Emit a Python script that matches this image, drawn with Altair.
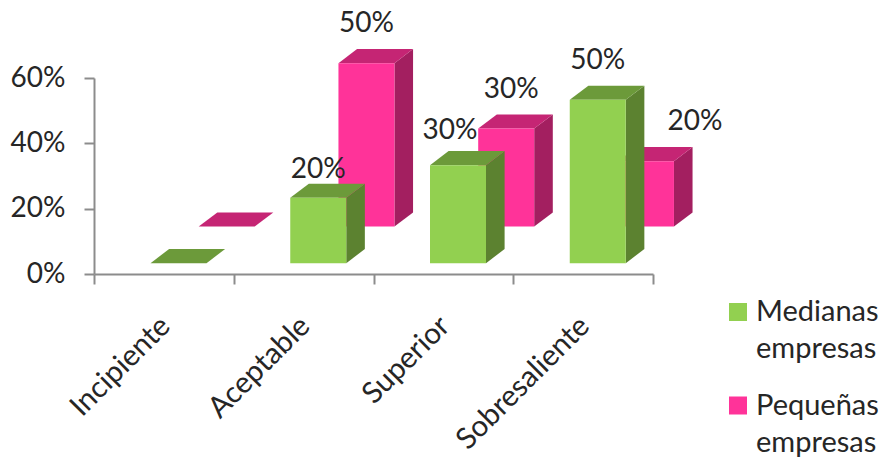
import json
import altair as alt
import pandas as pd

# Chart values
categories = ["Incipiente", "Aceptable", "Superior", "Sobresaliente"]
medianas = [0, 20, 30, 50]
pequenas = [0, 50, 30, 20]
series_names = ["Medianas\nempresas", "Pequeñas\nempresas"]
series_colors = ["#92D050", "#FF3399"]
y_ticks = [0, 20, 40, 60]

# Plot box in pixels and the pretend-3D geometry, in axis units
PLOT_W, PLOT_H = 559, 196
PX_X = PLOT_W / 4
PX_Y = PLOT_H / 60
BAR_W = 56 / PX_X
DEPTH_X = 18.6 / PX_X
DEPTH_Y = 14.2 / PX_Y

FONT = "Lato"
TEXT = "#262626"
AXIS_COLOR = "#8c8c8c"
LABEL_SIZE = 28

x_scale = alt.Scale(domain=[0, 4], nice=False, zero=False)
y_scale = alt.Scale(domain=[0, 60], nice=False, zero=False)

label_lookup = json.dumps(categories + [""])
x_axis = alt.Axis(
    values=[0, 1, 2, 3, 4], labelExpr=f"{label_lookup}[datum.value]",
    labelAngle=-45, labelAlign="right", labelBaseline="middle",
    labelOffset=71, labelPadding=37, labelOverlap=False, labelFlush=False,
    labelFont=FONT, labelFontSize=29.5, labelColor=TEXT, labelBound=False,
    tickSize=10, tickWidth=2, tickColor=AXIS_COLOR, domainWidth=2, domainColor=AXIS_COLOR, grid=False,
)
y_axis = alt.Axis(
    values=y_ticks, labelExpr="datum.value + '%'", labelPadding=19,
    labelFont=FONT, labelFontSize=LABEL_SIZE, labelColor=TEXT, labelOverlap=False,
    labelBound=False, labelFlush=False,
    tickSize=10, tickWidth=2, tickColor=AXIS_COLOR, domainWidth=2, domainColor=AXIS_COLOR, grid=False,
)
xq = alt.X("x:Q", scale=x_scale, axis=x_axis, title=None)
yq = alt.Y("y:Q", scale=y_scale, axis=y_axis, title=None)


def bar_faces(values, start, base, front, top, side):
    """Front, top and side faces of one series, each drawn as its own layer."""
    fronts, tops, sides = [], [], []
    for i, v in enumerate(values):
        left = i + start
        right = left + BAR_W
        if v > 0:
            fronts.append(dict(x=left, x2=right, y=base, y2=base + v))
            sides.append(dict(k=i, x=right, y=base, y2=base + v))
            sides.append(dict(k=i, x=right + DEPTH_X, y=base + DEPTH_Y, y2=base + v + DEPTH_Y))
        tops.append(dict(k=i, y=base + v, x=left, x2=right))
        tops.append(dict(k=i, y=base + v + DEPTH_Y, x=left + DEPTH_X, x2=right + DEPTH_X))
    return [
        alt.Chart(pd.DataFrame(sides)).mark_area(color=side, interpolate="linear").encode(
            x=xq, y=yq, y2="y2:Q", detail="k:N"),
        alt.Chart(pd.DataFrame(tops)).mark_area(color=top, orient="horizontal", interpolate="linear").encode(
            y=yq, x=xq, x2="x2:Q", detail="k:N"),
        alt.Chart(pd.DataFrame(fronts)).mark_rect(color=front).encode(
            x=xq, x2="x2:Q", y=yq, y2="y2:Q"),
    ]


def value_labels(values, start, base, nudge_x, lift):
    """Percentage labels above each non-zero bar, with a per-label shift in pixels."""
    rows = []
    for i, v in enumerate(values):
        if v > 0:
            rows.append(dict(
                x=i + start + BAR_W / 2 + nudge_x[i] / PX_X,
                y=base + v + DEPTH_Y + lift[i] / PX_Y,
                t=f"{v}%",
            ))
    return alt.Chart(pd.DataFrame(rows)).mark_text(
        font=FONT, fontSize=LABEL_SIZE, color=TEXT, baseline="alphabetic", align="center"
    ).encode(x=xq, y=yq, text="t:N")


def legend_entry(row, square_y, text_y):
    """One legend entry: a square swatch and its two-line label."""
    entry = pd.DataFrame({"name": [series_names[row]], "color": [series_colors[row]]})
    square = alt.Chart(entry).mark_square(size=324, opacity=1).encode(
        x=alt.value(644),
        y=alt.value(square_y),
        color=alt.Color("color:N", scale=None),
    )
    label = alt.Chart(entry).mark_text(
        font=FONT, fontSize=29, color=TEXT, align="left", baseline="alphabetic",
        lineBreak="\n", lineHeight=37,
    ).encode(x=alt.value(662), y=alt.value(text_y), text="name:N")
    return [square, label]


GREEN_START, GREEN_BASE = 56.5 / PX_X, 10.8 / PX_Y
PINK_START, PINK_BASE = 104.7 / PX_X, 47.4 / PX_Y

layers = (
    bar_faces(pequenas, PINK_START, PINK_BASE, "#FF3399", "#C52574", "#A31F60")
    + bar_faces(medianas, GREEN_START, GREEN_BASE, "#92D050", "#6C9A3A", "#5C8230")
    + [
        value_labels(medianas, GREEN_START, GREEN_BASE, [0, 0, -8, 0], [0, 6, 12, 17]),
        value_labels(pequenas, PINK_START, PINK_BASE, [0, 0, 5, 49], [0, 17, 16, 17]),
    ]
    + legend_entry(0, 234, 243)
    + legend_entry(1, 327.5, 336.5)
)

chart = alt.layer(*layers).properties(
    width=PLOT_W,
    height=PLOT_H,
    padding={"left": 94, "top": 78, "right": 227, "bottom": 183},
    autosize=alt.AutoSizeParams(type="none"),
    background="white",
).configure_view(stroke=None)

chart.save("out.html", embed_options={"renderer": "svg", "actions": False})
